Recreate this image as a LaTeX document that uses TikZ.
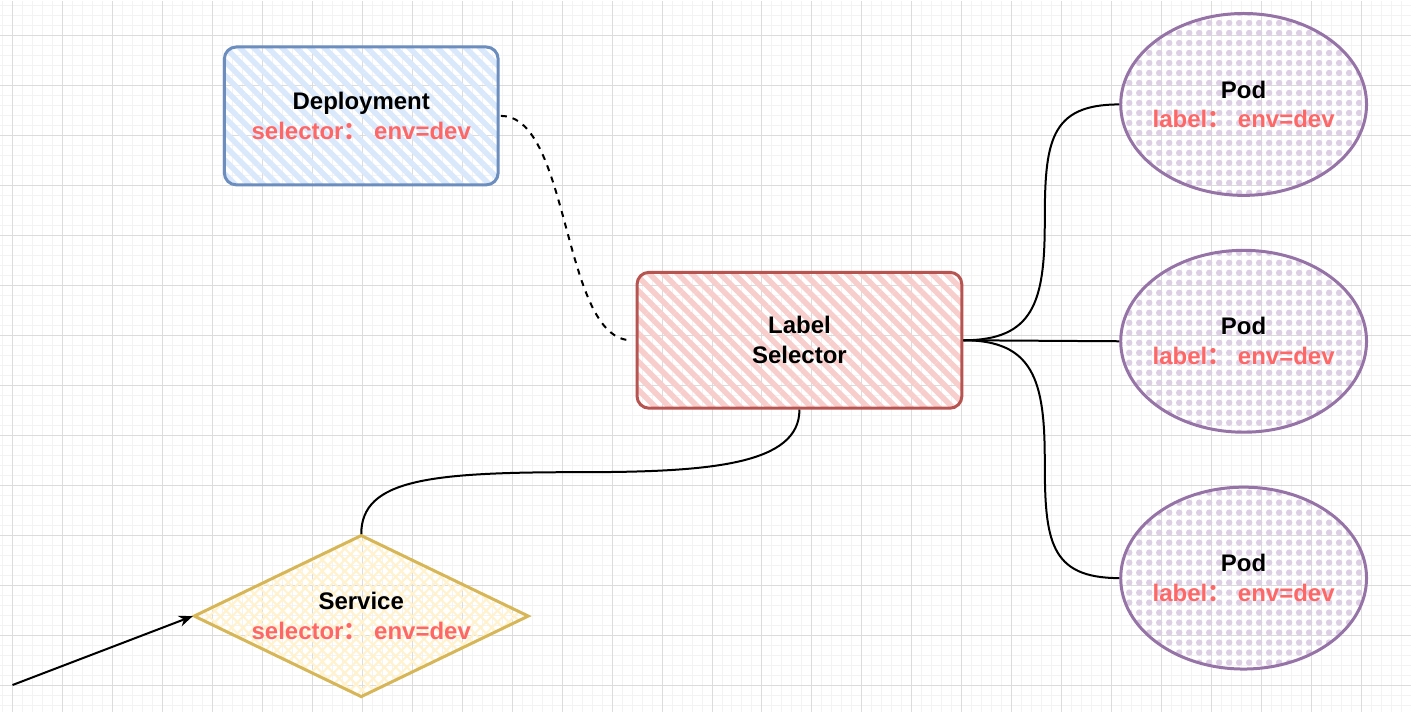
\documentclass[tikz,border=0pt]{standalone}
\usepackage{fontspec}
\setmainfont{Liberation Sans}
\newfontfamily\cjk{Noto Sans CJK SC}
\usetikzlibrary{arrows.meta,positioning,shapes.geometric,patterns.meta}

\definecolor{gridmin}{HTML}{F3F3F3}
\definecolor{gridmaj}{HTML}{DCDCDC}
\definecolor{depfill}{HTML}{DAE8FC}
\definecolor{depline}{HTML}{6C8EBF}
\definecolor{lsfill}{HTML}{F8CECC}
\definecolor{lsline}{HTML}{B85450}
\definecolor{svcfill}{HTML}{FFF2CC}
\definecolor{svcline}{HTML}{D6B656}
\definecolor{podfill}{HTML}{DCCEE3}
\definecolor{podline}{HTML}{9673A6}
\definecolor{redtxt}{HTML}{FF6666}

\newcommand{\fwcolon}{{\cjk ：}}

\begin{document}
\begin{tikzpicture}[x=1pt,y=-1pt,
    every node/.style={font=\bfseries\fontsize{24}{30}\selectfont,align=center,inner sep=0pt},
    deploybox/.style={draw=depline,line width=3pt,rounded corners=12pt,
        minimum width=274pt,minimum height=138pt,
        pattern={Lines[angle=-45,distance=10pt,line width=5.5pt]},pattern color=depfill},
    selectbox/.style={draw=lsline,line width=3pt,rounded corners=12pt,
        minimum width=325pt,minimum height=136pt,
        pattern={Lines[angle=-45,distance=10pt,line width=5.5pt]},pattern color=lsfill},
    svcbox/.style={diamond,draw=svcline,line width=3pt,
        minimum width=335pt,minimum height=162pt,
        preaction={pattern={Lines[angle=45,distance=8pt,line width=2pt]},pattern color=svcfill},
        pattern={Lines[angle=-45,distance=8pt,line width=2pt]},pattern color=svcfill},
    podbox/.style={ellipse,draw=podline,line width=3pt,
        minimum width=246pt,minimum height=182pt,
        pattern={Dots[radius=3.2pt,distance=10pt]},pattern color=podfill},
    conn/.style={line width=2pt,black}]

    % background grid
    \fill[white] (0,0) rectangle (1411,712);
    \foreach \gx in {2,12,...,1411} \draw[gridmin,line width=1pt] (\gx,0) -- (\gx,712);
    \foreach \gy in {5,15,...,712} \draw[gridmin,line width=1pt] (0,\gy) -- (1411,\gy);
    \foreach \gx in {12,62,...,1411} \draw[gridmaj,line width=1pt] (\gx,0) -- (\gx,712);
    \foreach \gy in {35,85,...,712} \draw[gridmaj,line width=1pt] (0,\gy) -- (1411,\gy);
    \useasboundingbox (0,0) rectangle (1411,712);

    % shapes
    \node[deploybox] (dep) at (361,115.5) {Deployment\\\textcolor{redtxt}{selector\fwcolon{} env=dev}};
    \node[selectbox] (ls) at (799.5,340) {Label\\Selector};
    \node[svcbox] (svc) at (361,616) {};
    \node (svctxt) at (svc.center) {Service\\\textcolor{redtxt}{selector\fwcolon{} env=dev}};
    \foreach \n/\py in {1/104,2/341,3/578} {
        \node[podbox] (pod\n) at (1244,\py) {};
        \node (podtxt\n) at (pod\n.center) {Pod\\\textcolor{redtxt}{label\fwcolon{} env=dev}};
    }

    % bends of the curved connectors
    \coordinate (upbend) at (1045,222);
    \coordinate (dnbend) at (1045,460);
    \coordinate (svcbend) at (580,472);
    \coordinate (src) at (12,685);

    % connectors
    \draw[conn,dash pattern=on 6pt off 6pt] (dep.east) .. controls +(70,0) and +(-70,0) .. ([xshift=-4pt]ls.west);
    \draw[conn] (ls.east) .. controls +(70,0) and +(0,80) .. (upbend) .. controls +(0,-80) and +(-70,0) .. (pod1.west);
    \draw[conn] (ls.east) -- (pod2.west);
    \draw[conn] (ls.east) .. controls +(70,0) and +(0,-80) .. (dnbend) .. controls +(0,80) and +(-70,0) .. (pod3.west);
    \draw[conn] (ls.south) .. controls +(0,55) and +(130,0) .. (svcbend) .. controls +(-150,0) and +(0,-55) .. (svc.north);
    \draw[conn,-{Stealth[length=14pt,width=11pt]}] (src) -- (svc.west);
\end{tikzpicture}
\end{document}
